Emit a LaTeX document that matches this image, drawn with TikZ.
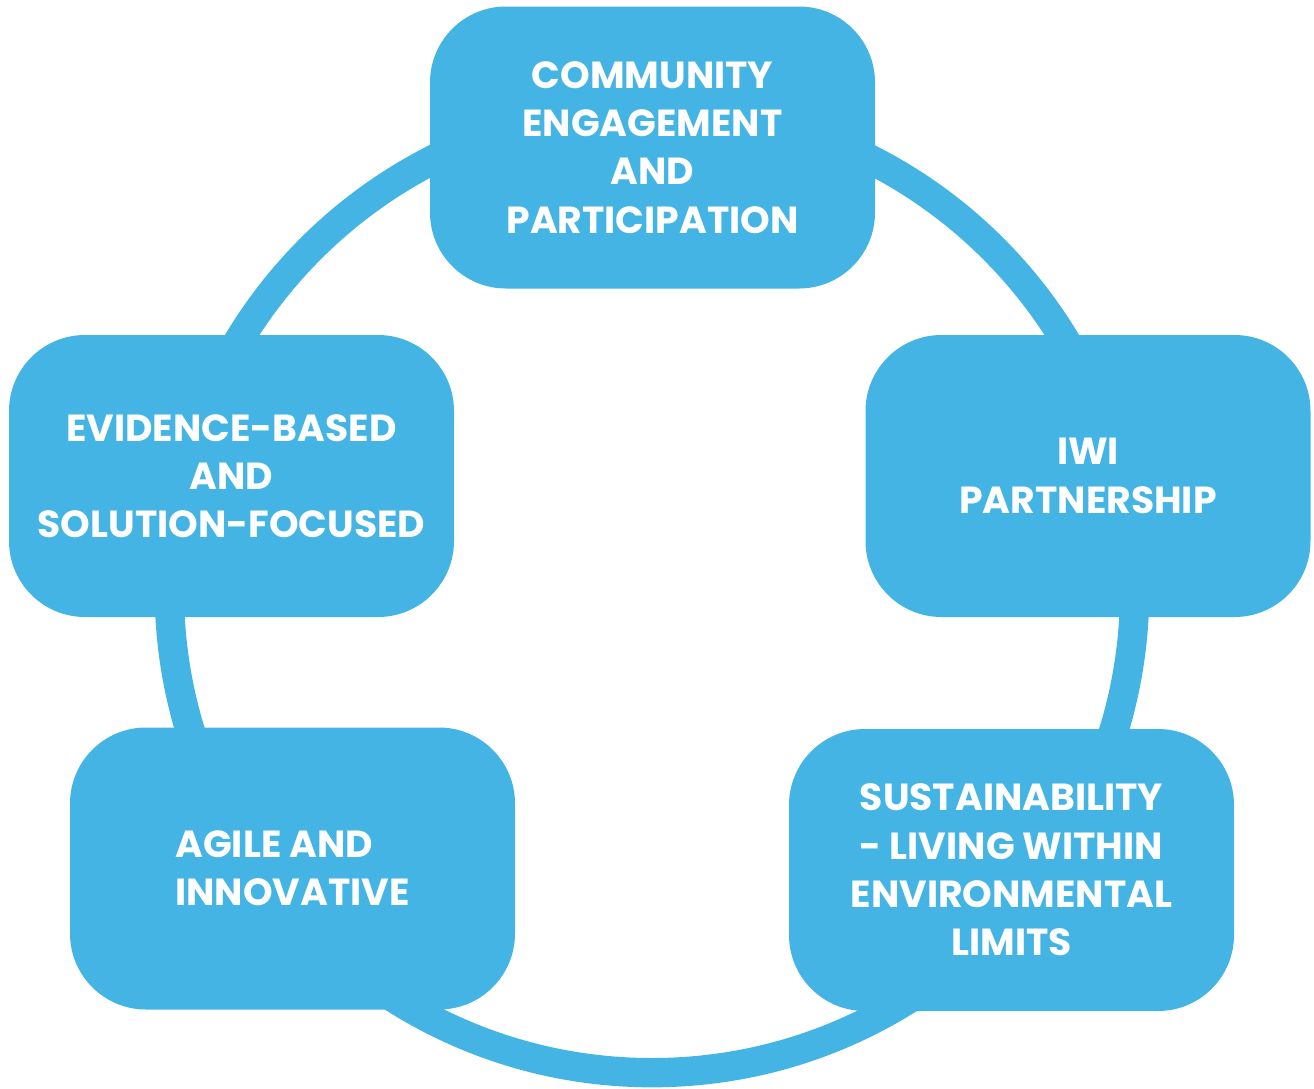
\documentclass[tikz,border=0pt]{standalone}
\usepackage{fontspec}
\setmainfont{Poppins}
\definecolor{ringblue}{RGB}{67,180,228}
\begin{document}
\begin{tikzpicture}[x=0.75pt,y=-0.75pt,
  valuebox/.style={fill=ringblue, draw=none, rounded corners=57pt,
    minimum width=333.75pt, minimum height=211.5pt, inner sep=0pt,
    text=white, align=center,
    font=\bfseries\fontsize{28.3}{36.2}\selectfont},
  ring/.style={draw=ringblue, line width=22pt}]
  \useasboundingbox (0,0) rectangle (1314,1089);
  % the cycle ring behind the boxes
  \coordinate (centre) at (652,590);
  \draw[ring] (centre) circle[radius=362pt];
  % the five value boxes
  \node[valuebox] (community) at (652.5,147.5) {COMMUNITY\\ENGAGEMENT\\AND\\PARTICIPATION};
  \node[valuebox] (iwi) at (1088,476) {IWI\\PARTNERSHIP};
  \node[valuebox] (sustain) at (1011.5,870) {SUSTAINABILITY\\- LIVING WITHIN\\ENVIRONMENTAL\\LIMITS};
  \node[valuebox, align=left] (agile) at (292.5,868.5) {AGILE AND\\INNOVATIVE};
  \node[valuebox] (evidence) at (231.5,476) {EVIDENCE-BASED\\AND\\SOLUTION-FOCUSED};
\end{tikzpicture}
\end{document}
